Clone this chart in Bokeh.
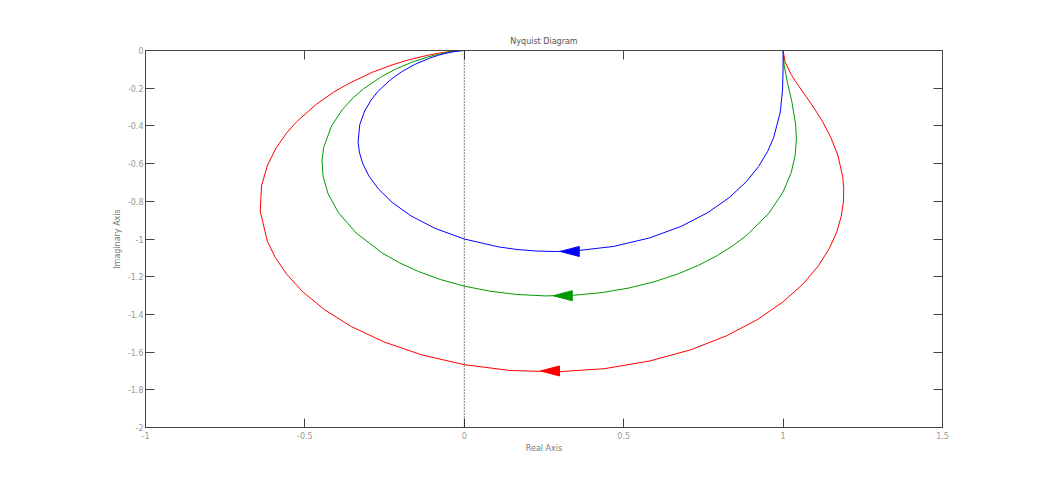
from bokeh.plotting import figure
from bokeh.models import LinearAxis, Range1d, FixedTicker, Span
from bokeh.embed import file_html
from bokeh.resources import INLINE

# Nyquist curves (real, imaginary)
blue_re = [1.0, 0.9999, 0.9983, 0.9912, 0.9704, 0.9511, 0.9231, 0.8840, 0.8316, 0.7639, 0.6799, 0.5803, 0.4678,
           0.3471, 0.2857, 0.2246, 0.1648, 0.1069, 0.0, -0.0921, -0.1675, -0.2261, -0.2693, -0.2994, -0.3185,
           -0.3291, -0.3331, -0.3279, -0.3124, -0.2925, -0.2713, -0.2308, -0.1961, -0.1553, -0.1096, -0.0810,
           -0.0622, -0.0399, -0.0204, -0.0100, 0.0]
blue_im = [0.0, -0.1010, -0.2080, -0.3268, -0.4621, -0.5367, -0.6154, -0.6971, -0.7796, -0.8598, -0.9332, -0.9948,
           -1.0395, -1.0632, -1.0664, -1.0637, -1.0555, -1.0417, -1.0, -0.9434, -0.8771, -0.8062, -0.7346, -0.6653,
           -0.6002, -0.5402, -0.4858, -0.3934, -0.3204, -0.2631, -0.2180, -0.1538, -0.1123, -0.0739, -0.0411,
           -0.0252, -0.0166, -0.0083, -0.0030, -0.0010, 0.0]

green_re = [1.0, 1.0036, 1.0135, 1.0274, 1.0396, 1.0417, 1.0381, 1.0256, 1.0, 0.9563, 0.8890, 0.8449, 0.7934,
            0.7343, 0.6677, 0.5941, 0.5145, 0.4302, 0.3427, 0.2540, 0.1661, 0.0809, 0.0, -0.0750, -0.1431, -0.2037,
            -0.2566, -0.3393, -0.3945, -0.4273, -0.4430, -0.4463, -0.4412, -0.4163, -0.3831, -0.3486, -0.3159,
            -0.2595, -0.2152, -0.1663, -0.1147, -0.0837, -0.0638, -0.0405, -0.0206, -0.0100, 0.0]
green_im = [0.0, -0.0811, -0.1689, -0.2710, -0.3960, -0.4702, -0.5536, -0.6470, -0.75, -0.8611, -0.9761, -1.0329,
            -1.0881, -1.1399, -1.1869, -1.2277, -1.2607, -1.2846, -1.2985, -1.3019, -1.2945, -1.2770, -1.25,
            -1.2148, -1.1730, -1.1260, -1.0751, -0.9680, -0.8608, -0.7596, -0.6677, -0.5860, -0.5147, -0.3997,
            -0.3143, -0.2508, -0.2031, -0.1384, -0.0986, -0.0634, -0.0344, -0.0208, -0.0136, -0.0068, -0.0024,
            -0.0008, 0.0]

red_re = [1.0, 1.0064, 1.0256, 1.0401, 1.0575, 1.0779, 1.1006, 1.1250, 1.1494, 1.1715, 1.1869, 1.1902, 1.1893,
          1.1824, 1.1684, 1.1451, 1.1107, 1.0631, 1.0, 0.9205, 0.8232, 0.7092, 0.5798, 0.4392, 0.2916, 0.1434, 0.0,
          -0.1329, -0.2516, -0.3535, -0.4378, -0.5048, -0.5559, -0.5929, -0.6180, -0.6400, -0.6362, -0.6172,
          -0.5900, -0.5590, -0.5269, -0.4649, -0.4098, -0.3622, -0.2874, -0.2329, -0.1761, -0.1190, -0.0859,
          -0.0650, -0.0410, -0.0207, -0.0101, 0.0]
red_im = [0.0, -0.0610, -0.1282, -0.1664, -0.2092, -0.2580, -0.3145, -0.3809, -0.4598, -0.5543, -0.6677, -0.7324,
          -0.8031, -0.8797, -0.9622, -1.0500, -1.1424, -1.2377, -1.3333, -1.4265, -1.5129, -1.5885, -1.6478,
          -1.6880, -1.7045, -1.6976, -1.6667, -1.6150, -1.5464, -1.4652, -1.3759, -1.2830, -1.1894, -1.0983,
          -1.0112, -0.8533, -0.7192, -0.6078, -0.5162, -0.4411, -0.3793, -0.2861, -0.2211, -0.1746, -0.1149,
          -0.0801, -0.0503, -0.0268, -0.0160, -0.0104, -0.0051, -0.0018, -0.0006, 0.0]

# direction arrows (tip positions on each curve)
arrow_x = [0.301, 0.279, 0.239]
arrow_y = [-1.066, -1.301, -1.700]
arrow_colors = ["#0000ff", "#009900", "#ff0000"]

x_ticks = [-1, -0.5, 0, 0.5, 1, 1.5]
y_ticks = [0, -0.2, -0.4, -0.6, -0.8, -1, -1.2, -1.4, -1.6, -1.8, -2]
x_labels = {-1: "-1", -0.5: "-0.5", 0: "0", 0.5: "0.5", 1: "1", 1.5: "1.5"}
y_labels = {0: "0", -0.2: "-0.2", -0.4: "-0.4", -0.6: "-0.6", -0.8: "-0.8", -1: "-1", -1.2: "-1.2",
            -1.4: "-1.4", -1.6: "-1.6", -1.8: "-1.8", -2: "-2"}

critical_x = [-1]
critical_y = [0]

FONT = "DejaVu Sans"
AXIS_COLOR = "#444444"
LABEL_COLOR = "#999999"

FRAME_W = 797
FRAME_H = 377
X0, X1 = -1, 1.5
Y0, Y1 = -2, 0

p = figure(width=1027, height=464, output_backend="svg", toolbar_location=None,
           x_range=Range1d(X0, X1), y_range=Range1d(Y0, Y1),
           min_border_left=145, min_border_right=85, min_border_top=50, min_border_bottom=37,
           title="Nyquist Diagram")
p.title.align = "center"
p.title.text_font = FONT
p.title.text_font_size = "8px"
p.title.text_font_style = "normal"
p.title.text_color = "#555555"
p.title.offset = -2

p.grid.visible = False
p.outline_line_color = AXIS_COLOR
p.background_fill_color = "white"
p.border_fill_color = "white"


def style_axis(ax, labels=True):
    ax.axis_line_color = AXIS_COLOR
    ax.major_tick_line_color = AXIS_COLOR
    ax.major_tick_in = 9
    ax.major_tick_out = 0
    ax.minor_tick_line_color = None
    ax.major_label_text_font = FONT
    ax.major_label_text_font_size = "8px"
    ax.major_label_text_color = LABEL_COLOR
    ax.axis_label_text_font = FONT
    ax.axis_label_text_font_size = "8px"
    ax.axis_label_text_color = "#777777"
    ax.axis_label_text_font_style = "normal"
    if not labels:
        ax.major_label_text_font_size = "0px"
        ax.major_label_text_color = None


xa = p.xaxis[0]
xa.ticker = FixedTicker(ticks=x_ticks)
xa.major_label_overrides = x_labels
xa.axis_label = "Real Axis"
style_axis(xa)
xa.major_label_standoff = 4
xa.axis_label_standoff = 2

ya = p.yaxis[0]
ya.ticker = FixedTicker(ticks=y_ticks)
ya.major_label_overrides = y_labels
ya.axis_label = "Imaginary Axis"
style_axis(ya)
ya.major_label_standoff = 2
ya.axis_label_standoff = 3

top = LinearAxis(ticker=FixedTicker(ticks=x_ticks))
style_axis(top, labels=False)
p.add_layout(top, "above")
right = LinearAxis(ticker=FixedTicker(ticks=y_ticks))
style_axis(right, labels=False)
p.add_layout(right, "right")

# dotted imaginary axis
p.add_layout(Span(location=0, dimension="height", line_color="black", line_dash="1 2", line_width=1))

p.line(red_re, red_im, line_color="#ff0000", line_width=1)
p.line(green_re, green_im, line_color="#009900", line_width=1)
p.line(blue_re, blue_im, line_color="#0000ff", line_width=1)

# arrow heads: elongated triangles (length 19 px, half-width 5 px) pointing left
head_len = 19 * (X1 - X0) / FRAME_W
head_half = 5 * (Y1 - Y0) / FRAME_H
arrow_xs = [[x, x + head_len, x + head_len] for x in arrow_x]
arrow_ys = [[y, y + head_half, y - head_half] for y in arrow_y]
p.patches(arrow_xs, arrow_ys, fill_color=arrow_colors, line_color=arrow_colors, line_width=1)

p.scatter(critical_x, critical_y, marker="cross", size=8, line_color="#ff0000", line_width=1)

open("out.html", "w").write(file_html(p, INLINE))
